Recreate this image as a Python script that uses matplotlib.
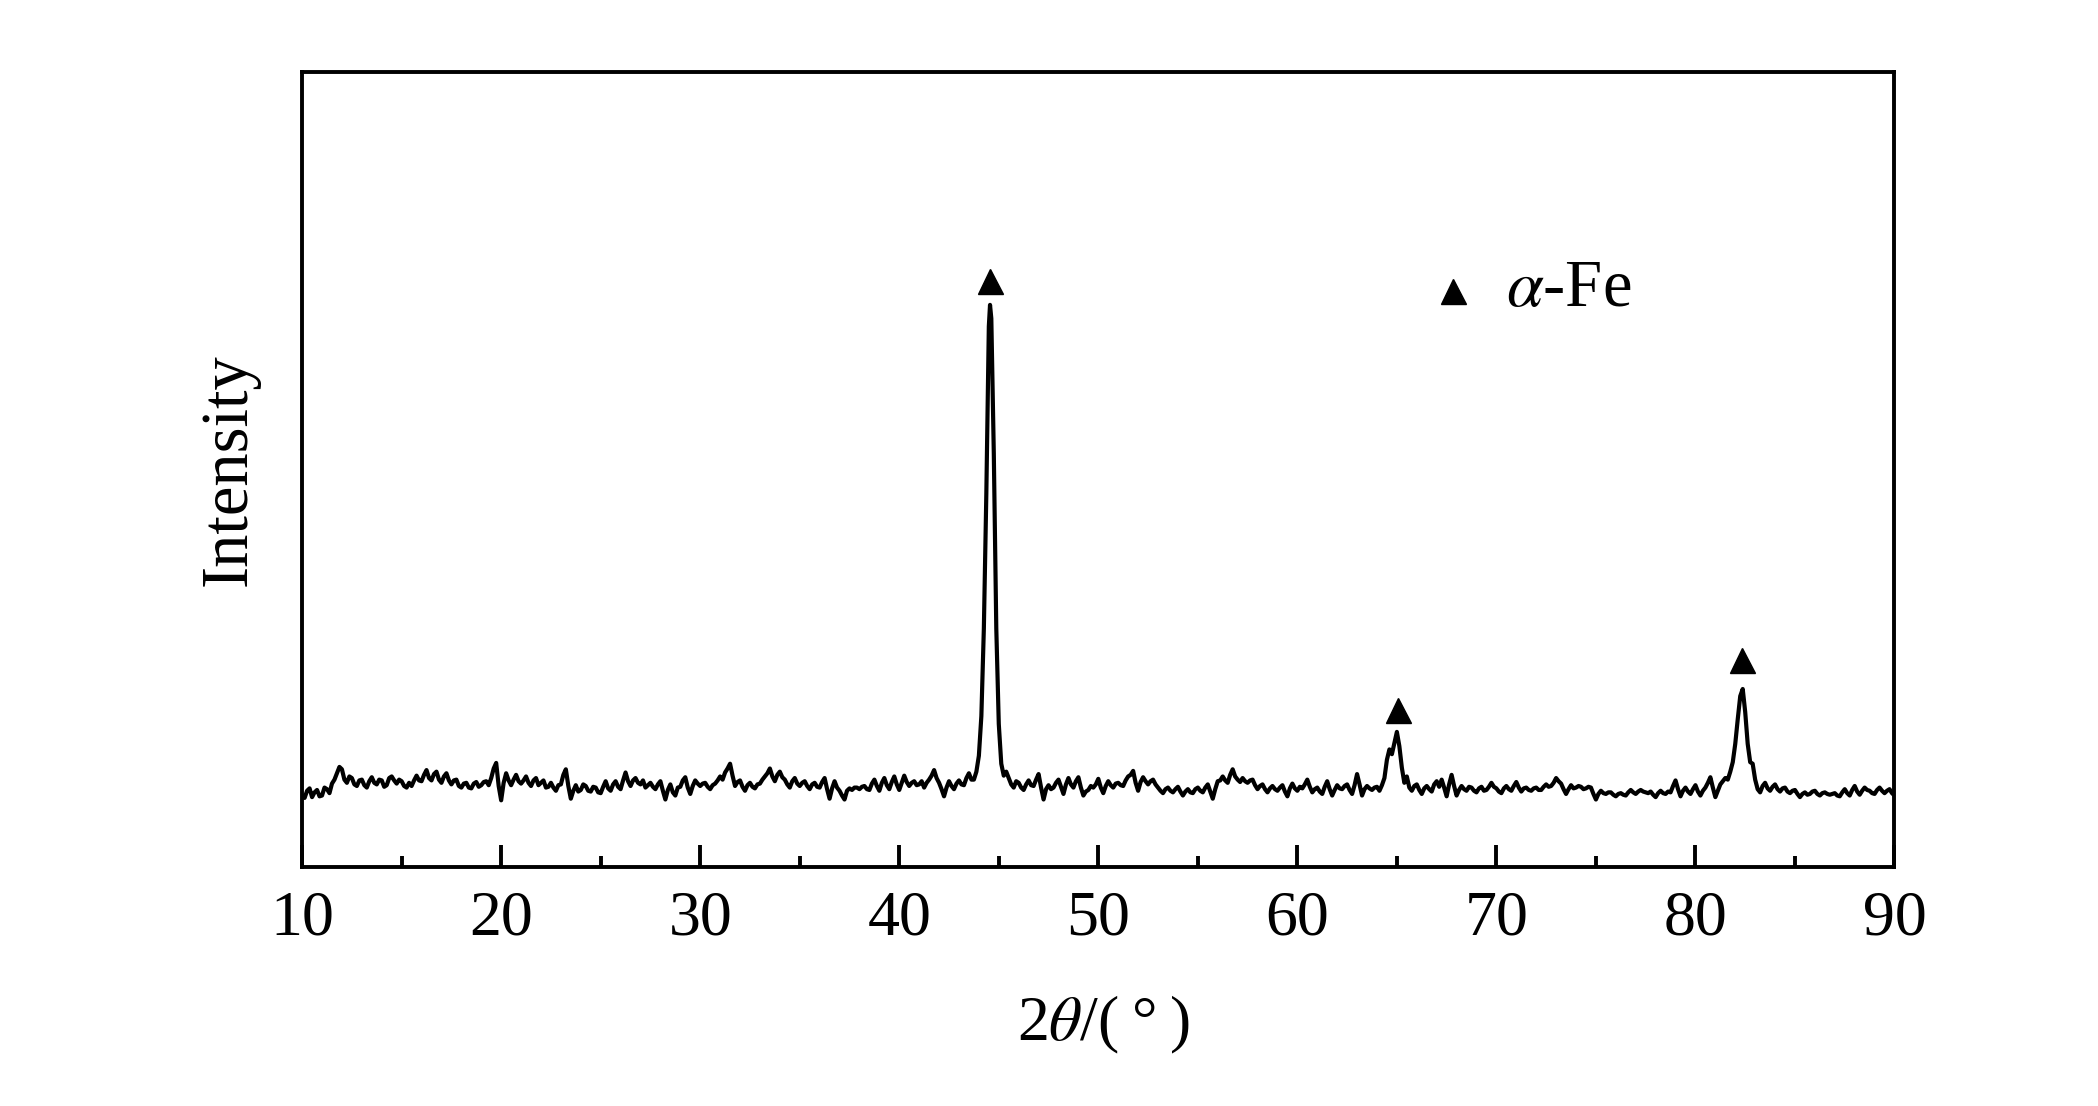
import numpy as np
import matplotlib
matplotlib.use("Agg")
import matplotlib.pyplot as plt

# XRD scan
# values on the 0.25 deg grid, 10.00 ... 90.00
grid_start, grid_step = 10.0, 0.25
intensity_grid = [
    # 10 - 20
    9.0, 9.6, 8.8, 9.7, 9.0, 9.8, 10.5, 11.8, 12.3, 10.6,
    11.2, 10.2, 11.0, 10.0, 11.3, 10.4, 10.9, 10.3, 11.4, 10.5,
    10.8, 10.0, 10.2, 11.5, 10.8, 12.2, 10.9, 12.0, 10.6, 11.8,
    10.4, 11.0, 10.0, 10.6, 9.9, 10.7, 10.3, 10.8, 11.2, 13.1,
    # 20 - 30
    8.4, 11.8, 10.3, 11.6, 10.5, 11.4, 10.2, 11.2, 10.6, 10.0,
    10.6, 9.6, 10.4, 12.3, 8.6, 10.3, 9.7, 10.2, 9.5, 10.0,
    9.3, 10.8, 9.6, 10.8, 9.8, 11.9, 10.2, 11.2, 10.4, 10.0,
    10.6, 9.8, 10.8, 8.5, 10.4, 9.0, 10.1, 11.3, 9.2, 10.9,
    # 30 - 40
    10.2, 10.6, 9.8, 10.5, 11.4, 11.9, 13.0, 10.2, 10.9, 9.6,
    10.6, 9.9, 10.5, 11.4, 12.4, 10.8, 12.0, 11.0, 10.0, 11.2,
    10.2, 10.8, 9.8, 10.6, 10.0, 11.2, 8.6, 10.8, 9.6, 8.5,
    9.9, 10.0, 9.8, 10.2, 9.7, 11.0, 9.6, 11.2, 9.8, 11.4,
    # 40 - 50
    9.7, 11.5, 10.2, 10.8, 10.4, 10.0, 11.0, 12.2, 10.6, 8.9,
    10.8, 9.8, 10.9, 10.3, 11.8, 11.0, 14.0, 30.0, 68.0, 52.0,
    18.0, 11.5, 11.2, 10.0, 10.6, 9.7, 10.9, 10.2, 11.7, 8.5,
    10.3, 10.0, 11.0, 9.2, 11.2, 10.0, 11.3, 9.0, 9.7, 10.0,
    # 50 - 60
    11.1, 9.3, 10.8, 10.0, 10.6, 10.2, 11.4, 12.1, 9.6, 11.3,
    10.4, 11.0, 10.0, 9.3, 10.0, 9.4, 10.1, 9.0, 9.8, 9.3,
    10.0, 9.4, 10.4, 8.6, 10.8, 11.4, 10.6, 12.3, 11.0, 11.2,
    10.6, 11.0, 9.8, 10.4, 9.4, 10.2, 9.6, 10.3, 8.9, 10.5,
    # 60 - 70
    9.6, 9.9, 11.0, 9.4, 10.0, 9.2, 10.8, 9.0, 10.3, 9.8,
    10.4, 9.2, 11.7, 9.0, 10.2, 9.7, 10.1, 10.3, 13.5, 14.2,
    17.0, 12.5, 11.4, 9.6, 10.4, 9.2, 10.2, 9.5, 10.8, 11.0,
    8.9, 11.6, 9.0, 10.2, 9.6, 10.0, 9.4, 10.1, 9.7, 10.6,
    # 70 - 80
    9.9, 9.3, 10.2, 9.6, 10.7, 9.5, 10.0, 9.6, 10.0, 9.7,
    10.4, 10.2, 11.2, 10.5, 9.2, 10.3, 10.0, 10.1, 9.9, 10.0,
    8.5, 9.6, 9.2, 9.4, 8.9, 9.3, 9.0, 9.7, 9.2, 9.7,
    9.4, 9.5, 8.8, 9.6, 9.2, 9.4, 10.9, 8.9, 10.0, 9.2,
    # 80 - 90
    10.3, 9.0, 10.0, 11.3, 8.8, 10.4, 11.2, 12.0, 15.5, 21.5,
    19.5, 13.2, 11.0, 9.4, 10.6, 9.6, 10.4, 9.5, 10.0, 9.3,
    9.7, 8.8, 9.4, 9.2, 9.6, 9.0, 9.4, 9.1, 9.3, 8.9,
    9.8, 9.0, 10.2, 9.1, 10.0, 9.6, 9.2, 10.0, 9.3, 9.8,
    9.0,
]

# values halfway between grid points, 10.125 ... 89.875
intensity_mid = [
    # 10 - 20
    8.7, 9.9, 9.4, 8.9, 10.0, 9.3, 11.0, 12.6, 11.0, 11.4,
    10.4, 10.9, 10.3, 10.8, 10.6, 11.0, 10.1, 11.2, 10.9, 11.0,
    10.2, 10.6, 10.9, 10.9, 11.6, 11.2, 11.7, 11.0, 11.4, 10.9,
    10.9, 10.2, 10.5, 10.0, 10.5, 10.1, 10.7, 10.3, 12.4, 10.2,
    # 20 - 30
    10.6, 10.9, 11.0, 10.8, 10.9, 10.6, 10.9, 10.3, 10.9, 10.1,
    10.0, 10.3, 11.6, 10.2, 9.6, 9.5, 10.4, 9.6, 10.1, 9.4,
    10.1, 9.9, 10.4, 10.1, 10.9, 10.8, 10.9, 10.6, 10.9, 10.3,
    10.1, 10.4, 9.6, 9.7, 9.4, 10.0, 10.9, 10.0, 10.2, 10.5,
    # 30 - 40
    10.5, 10.1, 10.3, 10.9, 11.0, 12.4, 11.5, 10.7, 10.1, 10.3,
    10.1, 10.4, 11.0, 11.8, 11.4, 11.6, 11.3, 10.4, 10.8, 10.5,
    10.6, 10.2, 10.4, 10.1, 10.7, 9.8, 9.9, 10.0, 9.0, 9.6,
    9.7, 10.0, 10.1, 9.8, 10.5, 10.2, 10.6, 10.3, 10.7, 10.4,
    # 40 - 50
    10.6, 10.7, 10.6, 10.3, 10.8, 10.6, 11.5, 11.2, 9.8, 10.0,
    10.2, 10.5, 10.4, 11.2, 11.0, 12.0, 19.0, 47.0, 69.0, 30.0,
    13.0, 12.0, 10.4, 10.8, 10.0, 10.4, 10.3, 11.0, 10.0, 9.8,
    9.8, 10.6, 10.1, 10.4, 10.4, 10.8, 10.0, 9.5, 10.2, 10.4,
    # 50 - 60
    10.0, 10.2, 10.3, 10.5, 10.3, 10.9, 11.6, 10.6, 10.7, 10.8,
    10.8, 10.4, 9.6, 9.8, 9.6, 9.8, 9.5, 9.5, 9.4, 9.8,
    9.6, 10.0, 9.5, 9.8, 10.9, 10.9, 11.6, 11.4, 10.7, 10.8,
    10.9, 10.3, 10.2, 9.8, 9.9, 9.8, 10.0, 9.5, 9.9, 9.9,
    # 60 - 70
    10.1, 10.4, 10.1, 9.8, 9.5, 10.1, 9.8, 9.7, 9.9, 10.2,
    9.7, 10.3, 10.4, 9.8, 9.9, 10.0, 9.6, 11.2, 14.8, 15.6,
    15.2, 10.6, 10.0, 10.2, 9.7, 9.9, 9.8, 10.4, 10.1, 10.0,
    10.4, 10.2, 9.7, 9.8, 10.1, 9.6, 9.9, 9.6, 10.1, 10.1,
    # 70 - 80
    9.5, 9.9, 9.8, 10.2, 10.0, 9.9, 9.7, 9.9, 9.7, 10.1,
    10.1, 10.6, 10.8, 9.8, 9.8, 9.9, 10.2, 9.8, 10.1, 9.2,
    9.2, 9.3, 9.4, 9.1, 9.2, 9.1, 9.4, 9.4, 9.5, 9.5,
    9.3, 9.1, 9.3, 9.3, 9.5, 10.2, 9.8, 9.6, 9.5, 9.8,
    # 80 - 90
    9.5, 9.6, 10.6, 10.0, 9.6, 10.8, 11.0, 13.2, 18.6, 22.4,
    15.5, 13.0, 9.8, 10.2, 9.9, 10.1, 9.8, 9.9, 9.5, 9.6,
    9.2, 9.2, 9.1, 9.5, 9.2, 9.3, 9.2, 9.2, 9.0, 9.4,
    9.3, 9.7, 9.5, 9.6, 9.7, 9.3, 9.7, 9.6, 9.6, 9.3,
]

# top of the main peak
peak_x = [44.56]
peak_y = [70.7]

# alpha-Fe markers
fe_x = [44.56, 65.05, 82.36]
fe_y = [73.7, 19.8, 26.0]

grid_x = grid_start + grid_step * np.arange(len(intensity_grid))
mid_x = grid_start + grid_step / 2 + grid_step * np.arange(len(intensity_mid))
x = np.concatenate([grid_x, mid_x, peak_x])
y = np.concatenate([intensity_grid, intensity_mid, peak_y])
order = np.argsort(x)
x, y = x[order], y[order]

plt.rcParams["font.family"] = ["Liberation Serif", "DejaVu Serif"]
plt.rcParams["mathtext.fontset"] = "stix"

fig = plt.figure(figsize=(20.98, 11.06), dpi=100)
ax = fig.add_axes([0.144, 0.216, 0.759, 0.719])

ax.plot(x, y, color="black", lw=3.0)
ax.plot(fe_x, fe_y, "^", color="black", ms=18, ls="none")

# legend entry
ax.plot([67.8], [72.4], "^", color="black", ms=18)
ax.text(70.5, 70.6, r"$\alpha$-Fe", fontsize=48, va="baseline", ha="left")

ax.set_xlim(10, 90)
ax.set_ylim(0, 100)
ax.set_xticks(range(10, 91, 10))
ax.set_xticks(range(15, 90, 10), minor=True)
ax.set_yticks([])
ax.tick_params(axis="x", which="major", direction="in", length=16, width=2.8,
               labelsize=46, pad=17, top=False)
ax.tick_params(axis="x", which="minor", direction="in", length=8, width=2.8, top=False)
for s in ax.spines.values():
    s.set_linewidth(2.8)

fig.text(0.109, 0.575, "Intensity", rotation=90, fontsize=48, ha="center", va="center")
fig.text(0.526, 0.073, "2$\\theta$/(\u2009°\u2009)", fontsize=46, ha="center", va="center")

fig.savefig("out.png", dpi=100)
